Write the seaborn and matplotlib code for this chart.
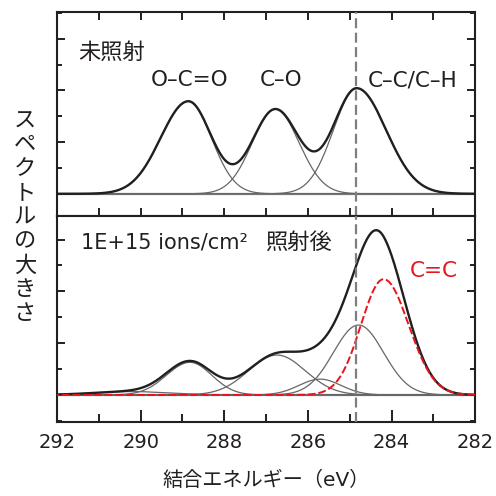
import numpy as np
import matplotlib
matplotlib.use("Agg")
import matplotlib.pyplot as plt
import seaborn as sns
from matplotlib.ticker import MultipleLocator

# binding energy grid (eV)
energy = np.linspace(282, 292, 1201)

# before irradiation: O-C=O, C-O, C-C/C-H (split-gaussian fit components)
top_centers = [288.86, 286.78, 284.83]
top_heights = [3.58, 3.27, 4.08]
top_sigma_left = [0.66, 0.55, 0.56]
top_sigma_right = [0.55, 0.57, 0.70]
top_labels = ["O–C=O", "C–O", "C–C/C–H"]

# after 1E+15 ions/cm2: broad, O-C=O, C-O, small, C-C, C=C
bot_centers = [290.2, 288.82, 286.74, 285.71, 284.79, 284.19]
bot_heights = [0.13, 1.26, 1.54, 0.61, 2.70, 4.47]
bot_sigma_left = [0.90, 0.56, 0.68, 0.50, 0.60, 0.54]
bot_sigma_right = [0.90, 0.52, 0.68, 0.50, 0.60, 0.60]
cc_index = 5  # C=C component, drawn red dashed

ref_energy = 284.85  # dashed reference line

INK = "#231f20"
GRAY = "#7f7f7f"


def split_gauss(x, c, h, sl, sr):
    s = np.where(x > c, sl, sr)
    return h * np.exp(-0.5 * ((x - c) / s) ** 2)


def draw_panel(ax, centers, heights, sl, sr, red=None):
    comps = [split_gauss(energy, c, h, a, b)
             for c, h, a, b in zip(centers, heights, sl, sr)]
    ax.axhline(0, color=GRAY, lw=1.6, zorder=1)
    for i, comp in enumerate(comps):
        if i == red:
            sns.lineplot(x=energy, y=comp, ax=ax, color="#e8141b", lw=1.4,
                         linestyle=(0, (4, 1.5)), zorder=4)
        else:
            sns.lineplot(x=energy, y=comp, ax=ax, color="#666666", lw=0.9,
                         zorder=2)
    sns.lineplot(x=energy, y=np.sum(comps, axis=0), ax=ax, color=INK,
                 lw=1.7, zorder=3)
    ax.axvline(ref_energy, color=GRAY, lw=1.6, linestyle=(0, (4.5, 2)),
               zorder=5)


sns.set_theme(style="ticks")
plt.rcParams["font.family"] = ["DejaVu Sans", "Noto Sans CJK JP"]

fig = plt.figure(figsize=(4.96, 4.96), dpi=100)
ax_top = fig.add_axes([0.115, 0.5645, 0.843, 0.4115])
ax_bot = fig.add_axes([0.115, 0.150, 0.843, 0.4145], sharex=ax_top)

draw_panel(ax_top, top_centers, top_heights, top_sigma_left, top_sigma_right)
draw_panel(ax_bot, bot_centers, bot_heights, bot_sigma_left, bot_sigma_right,
           red=cc_index)

ax_top.set_xlim(292, 282)
ax_top.set_ylim(-0.86, 7.04)
ax_bot.set_ylim(-1.03, 6.91)

for ax in (ax_top, ax_bot):
    for sp in ax.spines.values():
        sp.set_linewidth(1.5)
        sp.set_color(INK)
    ax.xaxis.set_major_locator(MultipleLocator(2))
    ax.xaxis.set_minor_locator(MultipleLocator(1))
    ax.yaxis.set_major_locator(MultipleLocator(2))
    ax.yaxis.set_minor_locator(MultipleLocator(1))
    ax.set_xlabel("")
    ax.set_ylabel("")
    ax.tick_params(axis="y", which="both", direction="in", left=True,
                   right=True, labelleft=False, color=INK, width=1.4)
    ax.tick_params(axis="y", which="major", length=6)
    ax.tick_params(axis="y", which="minor", length=3.5)

ax_top.tick_params(axis="x", which="both", direction="in", top=True,
                   bottom=True, labelbottom=False, length=5.5, color=INK,
                   width=1.4)
ax_bot.tick_params(axis="x", which="both", direction="in", top=False,
                   bottom=True, color=INK, width=1.4, labelsize=14,
                   labelcolor=INK, pad=8)
ax_bot.tick_params(axis="x", which="major", length=8.5)
ax_bot.tick_params(axis="x", which="minor", length=5.5)

# annotations
ax_top.text(291.5, 5.48, "未照射", fontsize=16, color=INK, va="center")
for lab, x in zip(top_labels, [288.82, 286.64, 283.5]):
    ax_top.text(x, 4.39, lab, fontsize=15.5, color=INK, ha="center",
                va="center")
ax_bot.text(291.42, 5.89, "1E+15 ions/cm²", fontsize=15, color=INK,
            va="center")
ax_bot.text(287.02, 5.89, "照射後", fontsize=16, color=INK, va="center")
ax_bot.text(283.0, 4.79, "C=C", fontsize=15.5, color="#e8141b", ha="center",
            va="center")

fig.text(0.05, 0.5615, "\n".join("スペクトルの大きさ"), fontsize=16,
         color=INK, ha="center", va="center", linespacing=1.25)
fig.text(0.536, 0.032, "結合エネルギー（eV）", fontsize=14.5, color=INK,
         ha="center", va="center")

fig.savefig("out.png", dpi=100)
